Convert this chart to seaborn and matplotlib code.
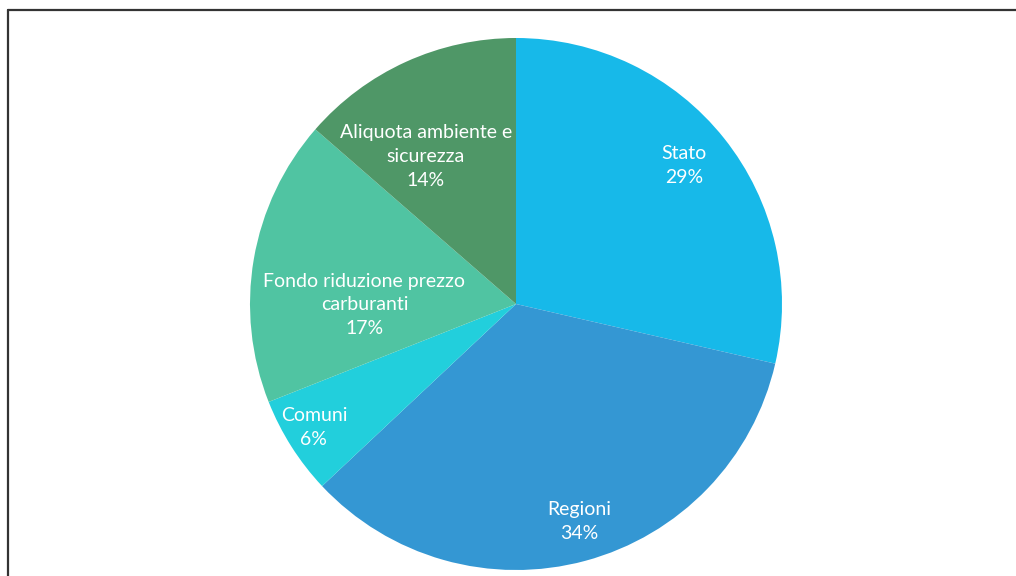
import numpy as np
import matplotlib
matplotlib.use("Agg")
import matplotlib.pyplot as plt
import seaborn as sns

categories = ["Stato", "Regioni", "Comuni", "Fondo riduzione prezzo\ncarburanti",
              "Aliquota ambiente e\nsicurezza"]
shares = [28.6, 34.4, 6.0, 17.4, 13.6]
slice_colors = ["#17B9E9", "#3497D3", "#22CFDC", "#50C4A2", "#4F9767"]

sns.set_theme(style="white")
plt.rcParams["font.family"] = ["Lato", "DejaVu Sans"]

W, H = 1016, 576
fig = plt.figure(figsize=(W / 100, H / 100), dpi=100)
ax = fig.add_axes([0, 0, 1, 1])

# pie centre / radius in pixels
cx, cy, rad = 516, 304, 266
palette = sns.color_palette(slice_colors)
wedges, _ = ax.pie(shares, colors=palette, startangle=90, counterclock=False,
                   radius=1, wedgeprops=dict(linewidth=0))

# Excel-style "best fit" label distance (fraction of radius) and angle shift
label_r = [0.82, 0.85, 0.89, 0.57, 0.65]
label_shift = [1, 1, -1, 10, 7]
for w, name, val, r, sh in zip(wedges, categories, shares, label_r, label_shift):
    ang = np.deg2rad((w.theta1 + w.theta2) / 2 + sh)
    ax.text(r * np.cos(ang), r * np.sin(ang), f"{name}\n{round(val)}%",
            ha="center", va="center", color="white", fontsize=14,
            linespacing=1.48)

ax.set_xlim(-cx / rad, (W - cx) / rad)
ax.set_ylim(-(H - cy) / rad, cy / rad)
ax.set_aspect("auto")
ax.axis("off")

# frame lines (left and top only visible)
fig.add_artist(plt.Line2D([8 / W, 8 / W], [0, 1 - 10 / H], color="#333333", lw=1.6))
fig.add_artist(plt.Line2D([8 / W, 1], [1 - 10 / H, 1 - 10 / H], color="#333333", lw=1.6))

fig.savefig("out.png", dpi=100, facecolor="white")
